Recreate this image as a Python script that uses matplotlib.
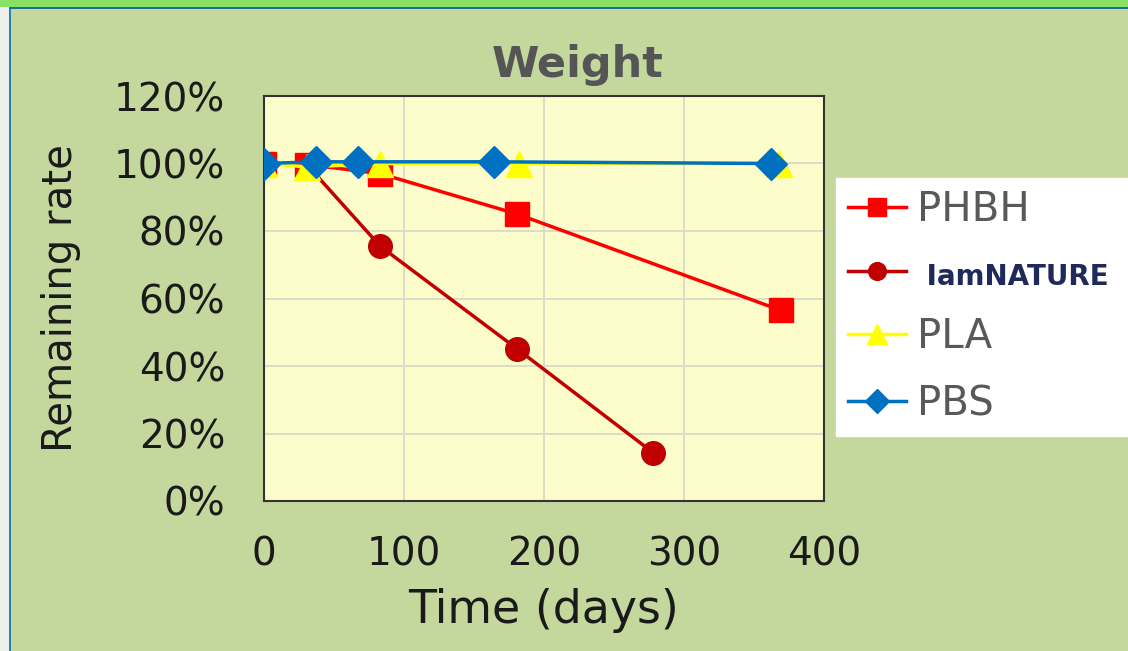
import matplotlib.pyplot as plt
from matplotlib.patches import Rectangle
from matplotlib.ticker import PercentFormatter, MultipleLocator

# data (days, remaining fraction)
phbh_days = [0, 31, 83, 181, 369]
phbh_rate = [1.00, 0.997, 0.97, 0.85, 0.565]

iam_days = [0, 31, 83, 181, 278]
iam_rate = [1.00, 0.995, 0.755, 0.45, 0.143]

pla_days = [0, 31, 83, 182, 368]
pla_rate = [1.00, 0.99, 1.00, 1.00, 1.00]

pbs_days = [0, 37, 67, 164, 362]
pbs_rate = [1.00, 1.005, 1.005, 1.005, 1.00]

bg = '#c4d79c'
fig = plt.figure(figsize=(11.28, 6.51), dpi=100, facecolor=bg)

# slide frame: green strip on top, thin blue borders, pale strip on the left
fig.patches.append(Rectangle((0, 1 - 7 / 651), 1, 7 / 651, transform=fig.transFigure,
                             facecolor='#88e064', edgecolor='none', zorder=0))
fig.patches.append(Rectangle((0, 1 - 9 / 651), 1, 2 / 651, transform=fig.transFigure,
                             facecolor='#1f6fa0', edgecolor='none', zorder=0))
fig.patches.append(Rectangle((0, 0), 9 / 1128, 1 - 7 / 651, transform=fig.transFigure,
                             facecolor='#eef0ec', edgecolor='none', zorder=0))
fig.patches.append(Rectangle((9 / 1128, 0), 2 / 1128, 1 - 9 / 651, transform=fig.transFigure,
                             facecolor='#2a7fb5', edgecolor='none', zorder=0))

ax = fig.add_axes([264 / 1128, 150 / 651, 560 / 1128, 405 / 651])
ax.set_facecolor('#fdfdcb')

ax.plot(phbh_days, phbh_rate, color='#ff0000', lw=2.5, marker='s', ms=17,
        label='PHBH', zorder=3)
ax.plot(iam_days, iam_rate, color='#c00000', lw=2.5, marker='o', ms=17,
        label=' IamNATURE', zorder=2)
ax.plot(pla_days, pla_rate, color='#ffff00', lw=2.5, marker='^', ms=19,
        label='PLA', zorder=4)
ax.plot(pbs_days, pbs_rate, color='#0070c0', lw=2.5, marker='D', ms=16,
        label='PBS', zorder=5)

ax.set_xlim(0, 400)
ax.set_ylim(0, 1.2)
ax.xaxis.set_major_locator(MultipleLocator(100))
ax.yaxis.set_major_locator(MultipleLocator(0.2))
ax.yaxis.set_major_formatter(PercentFormatter(1.0, decimals=0))
ax.grid(True, color='#d9d9c9', lw=1.3)
ax.set_axisbelow(True)
for s in ax.spines.values():
    s.set_color('#333333')
    s.set_linewidth(1.5)
ax.tick_params(length=0, labelsize=28, colors='#1a1a1a')
ax.tick_params(axis='y', pad=28)
ax.tick_params(axis='x', pad=25)

ax.set_xlabel('Time (days)', fontsize=33, color='#1a1a1a', labelpad=10)
ax.set_ylabel('Remaining rate', fontsize=29, color='#1a1a1a', labelpad=24)
ax.set_title('Weight', fontsize=31, fontweight='bold', color='#555555',
             x=0.56, pad=14)

leg = fig.legend(loc='upper left', bbox_to_anchor=(836 / 1128, 1 - 178 / 651, 292 / 1128, 0),
                 mode='expand', fontsize=29, frameon=True, fancybox=False, framealpha=1,
                 edgecolor='white', facecolor='white', labelspacing=0.66,
                 handlelength=1.45, handletextpad=0.25, borderpad=0.3,
                 borderaxespad=0, markerscale=0.75)
for t in leg.get_texts():
    t.set_color('#595959')
iam_txt = leg.get_texts()[1]
iam_txt.set_fontsize(20)
iam_txt.set_fontweight('bold')
iam_txt.set_color('#1f2a5a')

fig.savefig('out.png', dpi=100, facecolor=bg)
